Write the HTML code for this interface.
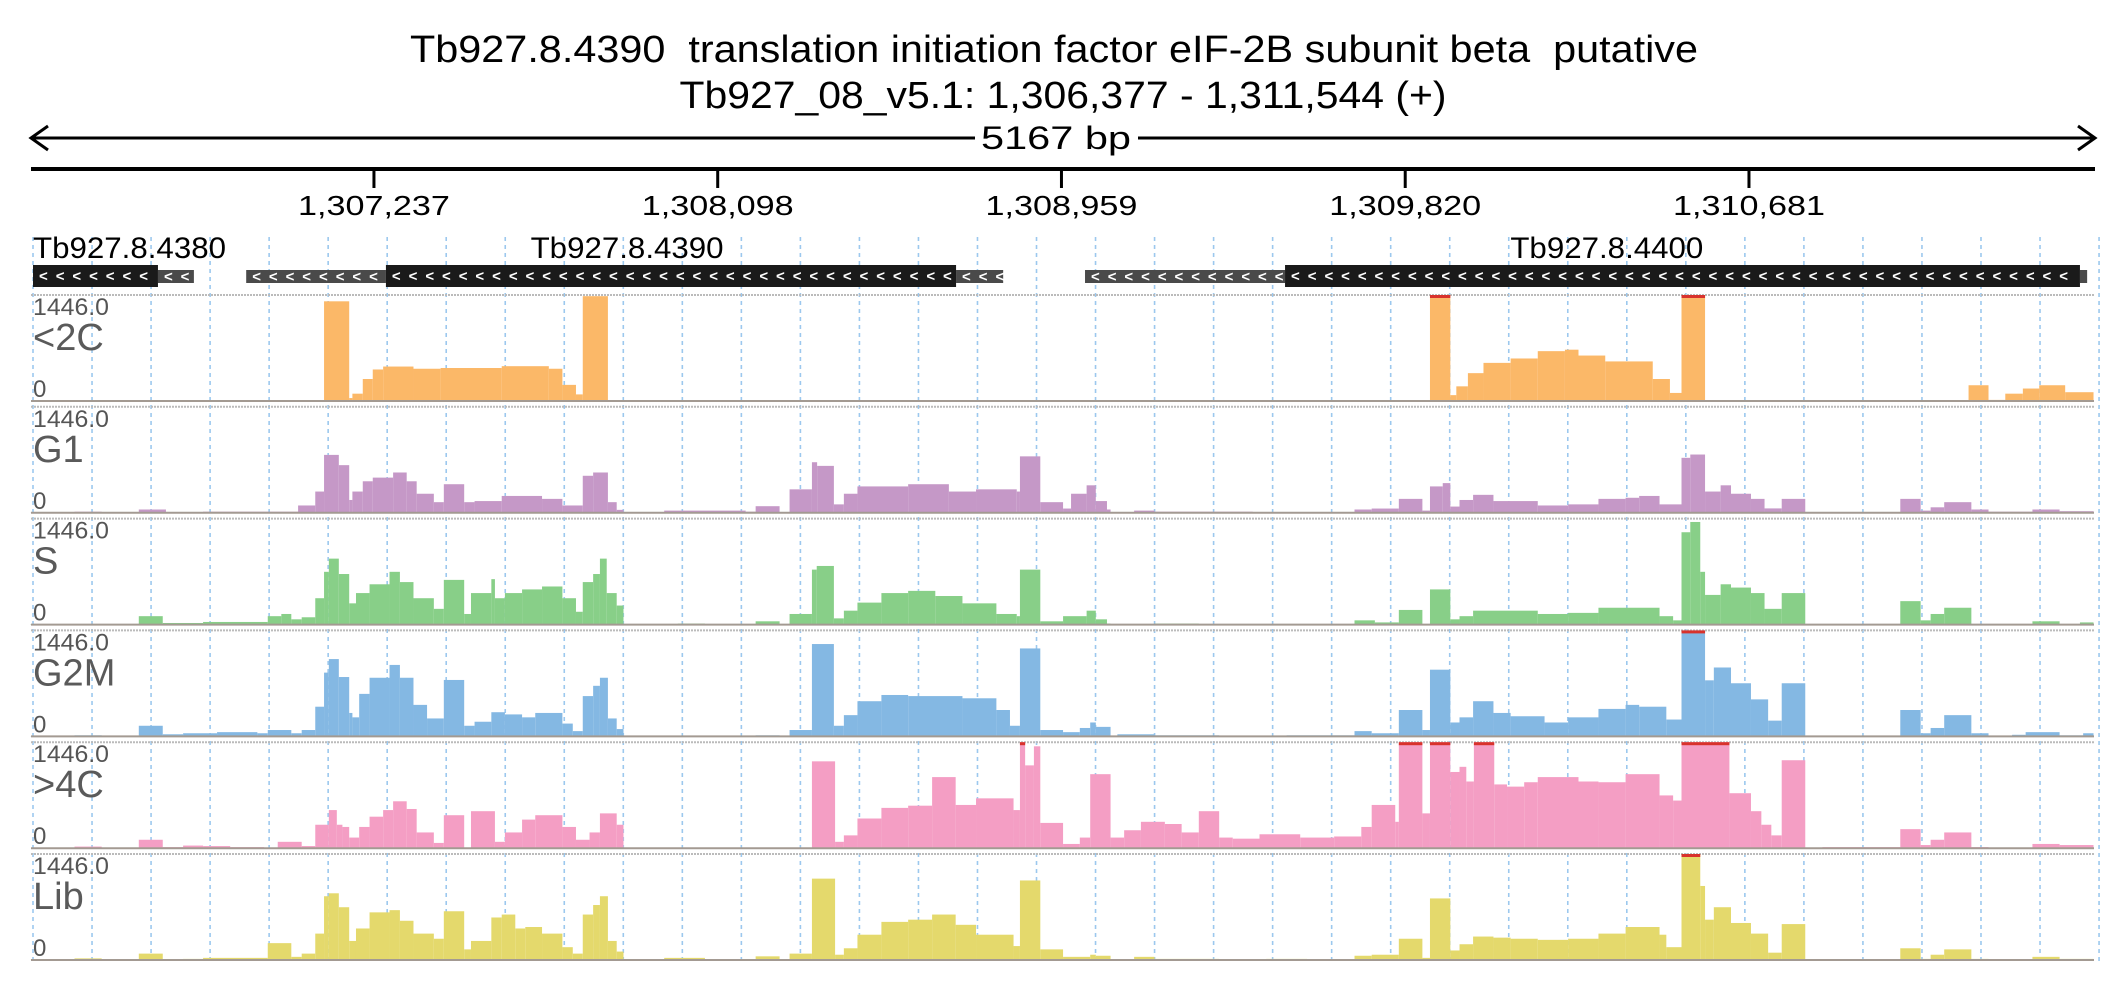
<!DOCTYPE html>
<html><head><meta charset="utf-8"><title>Tb927.8.4390 coverage</title>
<style>
html,body{margin:0;padding:0;background:#fff;}
svg{display:block;font-family:"Liberation Sans",sans-serif;}
</style></head>
<body>
<svg id="chart" width="2126" height="1000" viewBox="0 0 2126 1000" xmlns="http://www.w3.org/2000/svg">
  <text xml:space="preserve" style="white-space:pre" x="1054" y="62" text-anchor="middle" font-size="38" textLength="1288" lengthAdjust="spacingAndGlyphs" fill="#000">Tb927.8.4390  translation initiation factor eIF-2B subunit beta  putative</text>
  <text x="1063" y="108" text-anchor="middle" font-size="38" textLength="767" lengthAdjust="spacingAndGlyphs" fill="#000">Tb927_08_v5.1: 1,306,377 - 1,311,544 (+)</text>
  <g>
    <line x1="31" y1="138" x2="2095" y2="138" stroke="#000" stroke-width="3"/>
    <polyline points="48,126 31,138 48,150" fill="none" stroke="#000" stroke-width="3"/>
    <polyline points="2078,126 2095,138 2078,150" fill="none" stroke="#000" stroke-width="3"/>
    <rect x="975" y="120" width="163" height="36" fill="#fff"/>
    <text x="1056" y="149" text-anchor="middle" font-size="32" textLength="150" lengthAdjust="spacingAndGlyphs">5167 bp</text>
  </g>
  <line x1="31" y1="169" x2="2095" y2="169" stroke="#000" stroke-width="4"/>
  <g id="grid"></g>
  <g id="axis"></g>
  <g id="genes"></g>
  <g id="tracks"></g>
</svg>
<script>
const NS = 'http://www.w3.org/2000/svg';
const regionStart = 1306377;
const regionLength = 5167;
const yMax = 1446;
const tickValues = [1307237, 1308098, 1308959, 1309820, 1310681];
const tickLabels = ['1,307,237', '1,308,098', '1,308,959', '1,309,820', '1,310,681'];
const geneNames = ['Tb927.8.4380', 'Tb927.8.4390', 'Tb927.8.4400'];
const geneLabelPos = [-1, 1494, 3948];
const cdsStart = [6, 890, 3142];
const cdsEnd = [319, 2318, 5133];
const utrStart = [319, 540, 2318, 2641, 5133];
const utrEnd = [409, 890, 2436, 3142, 5151];
const trackNames = ['<2C', 'G1', 'S', 'G2M', '>4C', 'Lib'];
const trackColors = ['#fbb868', '#c598c7', '#88cf88', '#84b8e3', '#f49ec4', '#e4d96c'];

const lt2cStart = [0,735,798,806,832,857,883,959,1027,1180,1298,1332,1366,1383,1446,1485,3505,3556,3571,3600,3639,3707,3775,3843,3877,3944,4063,4106,4135,4194,4854,4904,4946,4990,5031,5096];
const lt2cValue = [0,1360,40,100,300,430,470,440,450,475,440,220,90,1430,8,0,1500,80,200,380,520,580,680,700,620,540,300,110,1500,0,215,15,100,170,215,120];

const g1Start = [0,110,178,271,339,432,670,713,735,772, 798,806,832,857,908,942,967,1010,1035,1086, 1112,1180,1281,1332,1383,1409,1446,1468,1485,1587, 1791,1816,1876,1901,1957,1970,2012,2037,2071,2198, 2300,2368,2470,2478,2529,2586,2606,2645,2668,2696, 2705,2764,2815,3061,3316,3359,3427,3486,3505,3537, 3556,3579,3613,3664,3775,3851,3927,3995,4029,4080, 4135,4157,4194,4233,4259,4309,4343,4386,4445,4683, 4734,4759,4793,4861,4904,5014,5082];
const g1Value = [3,15,7,45,7,15,100,290,790,650, 175,290,430,480,550,430,260,145,390,145, 160,230,190,100,505,550,145,40,7,30, 15,90,7,320,690,640,115,260,360,390, 290,320,290,770,145,58,260,375,160,45, 7,30,15,7,45,58,190,30,360,405, 85,175,245,160,100,115,190,205,230,115, 750,795,290,375,260,190,60,190,7,190, 30,75,145,45,15,45,22];

const sStart = [0,271,331,432,594,628,653,679,713,735, 747,772,798,815,849,899,925,959,1010,1035, 1086,1103,1154,1163,1188,1231,1281,1332,1366,1383, 1409,1426,1443,1468,1485,1621,1689,1816,1876,1901, 1957,1969,2012,2037,2071,2131,2198,2266,2334,2419, 2470,2478,2529,2586,2645,2668,2696,2705,2815,2926, 3316,3367,3427,3486,3505,3556,3579,3613,3775,3851, 3927,4080,4114,4135,4157,4182,4194,4233,4259,4309, 4343,4386,4445,4683,4734,4759,4793,4861,5014,5082, 5133];
const sValue = [7,115,22,36,115,145,72,100,360,720, 900,690,290,430,550,720,580,360,215,610, 145,430,620,360,430,480,520,360,175,580, 690,900,430,260,7,15,4,45,7,145, 750,800,85,190,300,430,460,390,290,145, 115,750,45,115,190,72,15,4,15,4, 58,30,200,7,480,72,115,190,145,160, 230,115,58,1260,1400,720,405,550,505,430, 215,430,7,320,58,145,230,7,45,7, 30];

const g2mStart = [0,110,178,271,331,382,467,568,594,653, 679,713,735,747,772,798,806,823,849,899, 925,959,993,1035,1086,1112,1154,1188,1231,1264, 1332,1358,1383,1409,1426,1446,1468,1485,1816,1876, 1901,1957,2012,2037,2071,2131,2198,2334,2419,2453, 2478,2529,2586,2628,2654,2668,2705,2722,2815,2977, 3146,3316,3359,3427,3486,3505,3556,3579,3613,3664, 3707,3792,3851,3927,3995,4029,4097,4135,4194,4216, 4259,4309,4352,4386,4445,4683,4734,4759,4793,4861, 4904,4963,4997,5082,5141];
const g2mValue = [4,15,4,145,29,43,58,43,87,43, 87,405,870,1055,810,320,260,580,800,975, 800,430,245,770,145,200,330,300,260,320, 175,72,550,690,800,245,100,4,15,7, 87,1260,145,290,480,565,550,520,360,145, 1200,87,58,115,190,130,4,29,15,4, 15,72,43,360,87,910,190,260,480,320, 275,190,260,375,430,405,230,1500,765,940, 725,505,215,725,4,360,43,115,290,43, 4,22,58,15,43];

const gt4cStart = [0,110,178,271,331,382,432,500,585,619, 679,713,747,767,781,798,823,849,883,908, 942,967,1010,1035,1086,1103,1163,1188,1231,1264, 1332,1366,1400,1426,1468,1485,1957,2015,2037,2071, 2131,2198,2258,2317,2368,2462,2478,2491,2513,2529, 2586,2628,2654,2705,2739,2781,2841,2883,2926,2977, 3011,3078,3180,3265,3333,3359,3418,3427,3486,3505, 3556,3579,3596,3615,3666,3698,3741,3775,3877,3927, 3995,4080,4114,4135,4255,4309,4335,4360,4386,4445, 4488,4683,4734,4759,4793,4861,4904,5014,5082];
const gt4cValue = [0,22,4,115,15,36,29,15,4,87, 29,320,520,320,290,145,290,430,520,640, 535,215,72,450,0,505,87,215,390,450, 290,115,215,475,320,0,1185,87,175,405, 550,580,970,590,680,520,1500,1130,1390,345, 58,145,1010,145,245,360,330,215,505,145, 130,190,145,160,290,590,360,1500,475,1500, 1040,1110,910,1500,870,840,900,970,910,900, 1010,720,650,1500,750,505,320,175,1200,0, 15,260,43,115,215,15,7,58,43];

const libStart = [0,110,178,271,331,382,432,594,653,679, 713,735,747,772,798,815,849,899,925,959, 1010,1035,1086,1103,1154,1180,1214,1239,1281,1332, 1358,1383,1409,1426,1446,1468,1485,1587,1689,1816, 1876,1901,1957,2015,2037,2071,2131,2198,2258,2317, 2368,2462,2478,2529,2586,2654,2668,2705,2764,2815, 2977,3095,3197,3316,3359,3427,3486,3505,3556,3579, 3613,3664,3707,3775,3851,3927,3995,4080,4097,4135, 4182,4194,4216,4259,4309,4352,4386,4445,4683,4734, 4759,4793,4861,4904,5014,5082];
const libValue = [4,22,4,87,7,15,29,230,43,87, 360,870,910,720,260,430,650,680,535,360, 290,665,145,260,580,620,430,450,360,175, 87,620,750,870,260,115,4,29,4,50, 4,87,1110,72,160,345,520,550,620,480, 345,190,1085,145,43,72,58,4,43,15, 7,15,4,58,72,290,29,840,130,215, 320,305,290,275,290,360,450,345,175,1500, 1010,550,720,505,360,100,490,0,160,15, 72,145,15,4,43,15];

const trackStarts = [lt2cStart, g1Start, sStart, g2mStart, gt4cStart, libStart];
const trackValues = [lt2cValue, g1Value, sValue, g2mValue, gt4cValue, libValue];

const X0 = 30.6, PXBP = 0.39925;
function xScale(bp){ return X0 + bp * PXBP; }
const TRACK_TOP0 = 295, TRACK_STEP = 111.8, TRACK_H = 106;
function trackTop(i){ return TRACK_TOP0 + i * TRACK_STEP; }
function yScale(i, v){ const c = Math.min(v, yMax); return trackTop(i) + TRACK_H - (c / yMax) * TRACK_H; }

function mk(tag, attrs, parent){
  const e = document.createElementNS(NS, tag);
  for (const k in attrs) e.setAttribute(k, attrs[k]);
  parent.appendChild(e);
  return e;
}

const grid = document.getElementById('grid');
for (let i = 0; i <= 35; i++) {
  const gx = 33 + i * 59.03;
  const gl = mk('line', {x1: gx, y1: 237, x2: gx, y2: 964, stroke: '#9cc8ee', 'stroke-width': 1.6, 'stroke-dasharray': '4,4'}, grid);
  
  
}

const axis = document.getElementById('axis');
tickValues.forEach((t, i) => {
  const tx = xScale(t - regionStart);
  const tk = mk('line', {x1: tx, y1: 169, x2: tx, y2: 188, stroke: '#000', 'stroke-width': 3}, axis);
  
  
  const tl = mk('text', {x: tx, y: 215, 'text-anchor': 'middle', 'font-size': 28, textLength: 152, lengthAdjust: 'spacingAndGlyphs'}, axis);
  tl.textContent = tickLabels[i];
  
  
});

const genes = document.getElementById('genes');
function chevrons(x1, x2, yc){
  for (let cx = x1 + 6; cx < x2 - 6; cx += 16.7) {
    const c = mk('text', {x: cx, y: yc + 5, 'font-size': 15, 'font-weight': 'bold', fill: '#fff'}, genes);
    c.textContent = '<';
    
    
  }
}
utrStart.forEach((s, i) => {
  const x1 = xScale(s), x2 = xScale(utrEnd[i]);
  const r = mk('rect', {x: x1, y: 270, width: x2 - x1, height: 13, fill: '#4a4a4a'}, genes);
  
  
  chevrons(x1, x2, 276.5);
});
cdsStart.forEach((s, i) => {
  const x1 = xScale(s), x2 = xScale(cdsEnd[i]);
  const r = mk('rect', {x: x1, y: 265, width: x2 - x1, height: 22, fill: '#1a1a1a'}, genes);
  
  
  chevrons(x1, x2, 276);
});
geneNames.forEach((n, i) => {
  const anchorStart = geneLabelPos[i] < 0;
  const lx = anchorStart ? 33 : xScale(geneLabelPos[i]);
  const t = mk('text', {x: lx, y: 258, 'text-anchor': anchorStart ? 'start' : 'middle', 'font-size': 30, textLength: 193, lengthAdjust: 'spacingAndGlyphs'}, genes);
  t.textContent = n;
  
  
});

const tracksG = document.getElementById('tracks');
trackNames.forEach((name, i) => {
  const g = mk('g', {}, tracksG);
  
  
  const top = trackTop(i), base = top + TRACK_H;
  const tl = mk('line', {x1: 31, y1: top, x2: 2094, y2: top, stroke: '#bbb', 'stroke-width': 2, 'stroke-dasharray': '2,1'}, g);
  
  
  const st = trackStarts[i], vals = trackValues[i];
  const n = Math.min(st.length, vals.length);
  for (let k = 0; k < n; k++) {
    const v = vals[k];
    if (v <= 0) continue;
    const e = k + 1 < st.length ? st[k + 1] : regionLength;
    const x1 = xScale(st[k]), x2 = xScale(e);
    const y = yScale(i, v);
    const b = mk('rect', {x: x1, y: y, width: Math.max(0.5, x2 - x1), height: base - y, fill: trackColors[i]}, g);
    
    
    if (v > yMax) {
      const cap = mk('rect', {x: x1, y: top, width: x2 - x1, height: 3, fill: '#d8322c'}, g);
      
      
    }
  }
  const bl = mk('line', {x1: 31, y1: base, x2: 2094, y2: base, stroke: '#a39a92', 'stroke-width': 2}, g);
  
  
  const mx = mk('text', {x: 33, y: top + 20, 'font-size': 24, fill: '#555', textLength: 76, lengthAdjust: 'spacingAndGlyphs'}, g);
  mx.textContent = yMax.toFixed(1);
  
  
  const nm = mk('text', {x: 33, y: top + 55, 'font-size': 38, fill: '#5a5a5a'}, g);
  nm.textContent = name;
  
  
  const z = mk('text', {x: 33, y: base - 4, 'font-size': 24, fill: '#555'}, g);
  z.textContent = '0';
  
  
});
</script>
</body></html>
